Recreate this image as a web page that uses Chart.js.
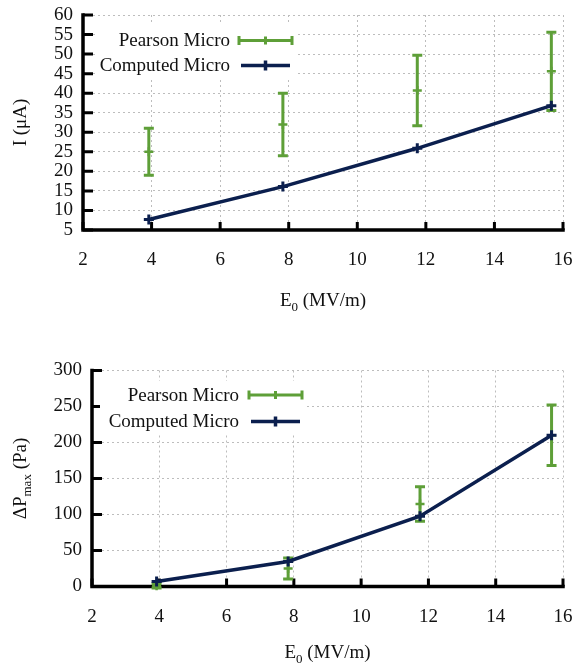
<!DOCTYPE html>
<html>
<head>
<meta charset="utf-8">
<script src="https://cdn.jsdelivr.net/npm/chart.js@4/dist/chart.umd.min.js"></script>
<style>
  html, body { margin: 0; padding: 0; background: #fff; }
  #wrap { position: relative; width: 576px; height: 666px; }
  canvas { position: absolute; left: 0; }
</style>
</head>
<body>
<div id="wrap">
  <canvas id="top" width="576" height="333" style="top:0"></canvas>
  <canvas id="bot" width="576" height="333" style="top:333px"></canvas>
</div>
<script>
// ---------- data ----------
const eField = [3.92, 7.83, 11.75, 15.66];           // E0 (MV/m)
const seriesNames = ['Pearson Micro', 'Computed Micro'];

const currentPearson    = [25.0, 32.0, 40.7, 45.6];  // I (µA)
const currentPearsonErr = [6.0, 8.0, 9.0, 10.0];
const currentComputed   = [7.7, 16.1, 25.9, 36.8];

const pressurePearson    = [1.0, 25.0, 114.5, 210.0]; // ΔPmax (Pa)
const pressurePearsonErr = [3.0, 14.5, 24.0, 42.0];
const pressureComputed   = [6.9, 34.7, 97.7, 210.0];

const xTicks = { min: 2, max: 16, step: 2 };
const currentTicks = { min: 5, max: 60, step: 5 };
const pressureTicks = { min: 0, max: 300, step: 50 };

const xTitle = [{ t: 'E' }, { t: '0', sub: true }, { t: ' (MV/m)' }];
const currentTitle = [{ t: 'I (μA)' }];
const pressureTitle = [{ t: 'ΔP' }, { t: 'max', sub: true }, { t: ' (Pa)' }];

// ---------- styles ----------
const GREEN = '#5e9f38';
const NAVY = '#0b1f4e';
const FONT = "'Liberation Serif', 'Times New Roman', serif";
const TXT = '#111';

function drawRich(ctx, parts, cx, cy, rot) {
  ctx.save();
  ctx.translate(cx, cy);
  if (rot) ctx.rotate(rot);
  ctx.fillStyle = TXT;
  ctx.textBaseline = 'alphabetic';
  ctx.textAlign = 'left';
  const big = '19px ' + FONT, small = '13px ' + FONT;
  let w = 0;
  parts.forEach(p => { ctx.font = p.sub ? small : big; w += ctx.measureText(p.t).width; });
  let x = -w / 2;
  parts.forEach(p => {
    ctx.font = p.sub ? small : big;
    ctx.fillText(p.t, x, p.sub ? 6 + 5 : 6);
    x += ctx.measureText(p.t).width;
  });
  ctx.restore();
}

const axesPlugin = {
  id: 'gnuAxes',
  beforeDatasetsDraw(chart) {
    const { ctx, chartArea: { left, right, top, bottom }, scales: { x, y } } = chart;
    ctx.save();
    ctx.strokeStyle = '#000';
    ctx.lineWidth = 3.5;
    ctx.lineCap = 'square';
    ctx.beginPath();
    ctx.moveTo(left, top); ctx.lineTo(left, bottom); ctx.lineTo(right, bottom);
    ctx.stroke();
    ctx.lineWidth = 3;
    ctx.lineCap = 'butt';
    ctx.beginPath();
    y.ticks.forEach(t => { const p = y.getPixelForValue(t.value); ctx.moveTo(left, p); ctx.lineTo(left + 10, p); });
    x.ticks.forEach(t => { const p = x.getPixelForValue(t.value); ctx.moveTo(p, bottom); ctx.lineTo(p, bottom - 8); });
    ctx.stroke();
    // error bars
    chart.data.datasets.forEach(ds => {
      if (!ds.errors) return;
      ctx.strokeStyle = ds.borderColor;
      ctx.lineWidth = 3;
      ctx.beginPath();
      ds.data.forEach((pt, i) => {
        const e = ds.errors[i];
        const px = x.getPixelForValue(pt.x);
        const yt = y.getPixelForValue(pt.y + e), yb = y.getPixelForValue(pt.y - e);
        ctx.moveTo(px, yt); ctx.lineTo(px, yb);
        ctx.moveTo(px - 5, yt); ctx.lineTo(px + 5, yt);
        ctx.moveTo(px - 5, yb); ctx.lineTo(px + 5, yb);
      });
      ctx.stroke();
    });
    ctx.restore();
  },
  afterDraw(chart) {
    const { ctx, chartArea: { left, right, top, bottom } } = chart;
    const L = chart.options.plugins.gnuAxes;
    // legend
    ctx.save();
    ctx.fillStyle = '#fff';
    ctx.fillRect(L.boxX, L.boxY, L.boxW, L.boxH);
    ctx.font = '19px ' + FONT;
    ctx.fillStyle = TXT;
    ctx.textAlign = 'right';
    ctx.textBaseline = 'middle';
    const ds = chart.data.datasets;
    const pe = ds.find(d => d.errors);
    const co = ds.find(d => !d.errors);
    ctx.fillText(pe.label, L.textX, L.y1 + 1);
    ctx.fillText(co.label, L.textX, L.y2 + 1);
    ctx.lineCap = 'butt';
    ctx.strokeStyle = pe.borderColor; ctx.lineWidth = 3;
    ctx.beginPath();
    ctx.moveTo(L.s1a, L.y1); ctx.lineTo(L.s1b, L.y1);
    ctx.moveTo(L.s1a, L.y1 - 4.5); ctx.lineTo(L.s1a, L.y1 + 4.5);
    ctx.moveTo(L.s1b, L.y1 - 4.5); ctx.lineTo(L.s1b, L.y1 + 4.5);
    const m1 = (L.s1a + L.s1b) / 2;
    ctx.moveTo(m1, L.y1 - 4); ctx.lineTo(m1, L.y1 + 4);
    ctx.stroke();
    ctx.strokeStyle = co.borderColor; ctx.lineWidth = 3.5;
    ctx.beginPath();
    ctx.moveTo(L.s2a, L.y2); ctx.lineTo(L.s2b, L.y2);
    const m2 = (L.s2a + L.s2b) / 2;
    ctx.moveTo(m2, L.y2 - 5); ctx.lineTo(m2, L.y2 + 5);
    ctx.stroke();
    ctx.restore();
    // axis titles
    drawRich(ctx, L.xTitle, (left + right) / 2, L.xTitleY, 0);
    drawRich(ctx, L.yTitle, L.yTitleX, (top + bottom) / 2, -Math.PI / 2);
  }
};

function makeChart(id, area, yT, pearson, pearsonErr, computed, legend, yTitle) {
  const H = 333, W = 576;
  const pts = arr => eField.map((x, i) => ({ x: x, y: arr[i] }));
  return new Chart(document.getElementById(id), {
    type: 'scatter',
    data: {
      datasets: [
        {
          label: seriesNames[1],
          data: pts(computed),
          showLine: true,
          borderColor: NAVY,
          backgroundColor: NAVY,
          borderWidth: 3.5,
          tension: 0,
          pointStyle: 'cross',
          pointRadius: 5,
          pointBorderWidth: 3,
          clip: false,
          order: 0
        },
        {
          label: seriesNames[0],
          data: pts(pearson),
          errors: pearsonErr,
          showLine: false,
          borderColor: GREEN,
          backgroundColor: GREEN,
          pointStyle: 'cross',
          pointRadius: 4.5,
          pointBorderWidth: 2.5,
          clip: false,
          order: 1
        }
      ]
    },
    options: {
      responsive: false,
      animation: false,
      devicePixelRatio: 1,
      layout: { padding: { left: 0, top: area.top, right: W - area.right, bottom: 0 } },
      plugins: {
        legend: { display: false },
        tooltip: { enabled: false },
        gnuAxes: Object.assign({ xTitle: xTitle, yTitle: yTitle }, legend)
      },
      scales: {
        x: {
          type: 'linear',
          min: xTicks.min, max: xTicks.max,
          afterFit: s => { s.height = H - area.bottom; s.paddingLeft = 0; s.paddingRight = 0; },
          ticks: { stepSize: xTicks.step, autoSkip: false, padding: 19, color: TXT, font: { family: FONT, size: 19 } },
          grid: { color: '#bdbdbd', lineWidth: 1, drawTicks: false },
          border: { display: false, dash: [2, 3] }
        },
        y: {
          type: 'linear',
          min: yT.min, max: yT.max,
          afterFit: s => { s.width = area.left; s.paddingTop = 0; s.paddingBottom = 0; },
          ticks: { stepSize: yT.step, autoSkip: false, padding: 10, color: TXT, font: { family: FONT, size: 19 } },
          grid: { color: '#bdbdbd', lineWidth: 1, drawTicks: false },
          border: { display: false, dash: [2, 3] }
        }
      }
    },
    plugins: [axesPlugin]
  });
}

makeChart('top',
  { left: 83, right: 563, top: 15, bottom: 230 },
  currentTicks, currentPearson, currentPearsonErr, currentComputed,
  { boxX: 95, boxY: 25, boxW: 203, boxH: 53, textX: 230, y1: 40.5, y2: 65.5,
    s1a: 239, s1b: 292, s2a: 241, s2b: 290, xTitleY: 300, yTitleX: 20 },
  currentTitle);

makeChart('bot',
  { left: 92, right: 563, top: 37.5, bottom: 253.5 },
  pressureTicks, pressurePearson, pressurePearsonErr, pressureComputed,
  { boxX: 100, boxY: 48, boxW: 207, boxH: 54, textX: 239, y1: 62, y2: 88.5,
    s1a: 249, s1b: 302, s2a: 251, s2b: 300, xTitleY: 319, yTitleX: 20 },
  pressureTitle);
</script>
</body>
</html>
